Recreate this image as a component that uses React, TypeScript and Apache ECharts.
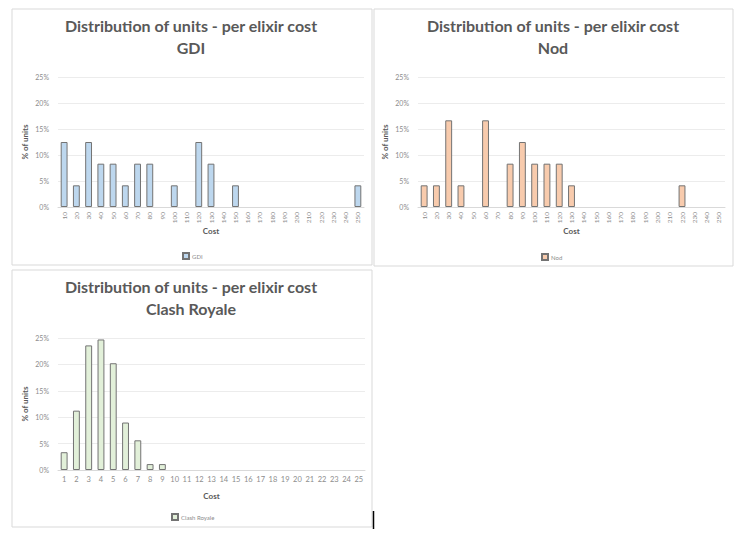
import React, { useEffect, useRef } from "react";
import * as echarts from "echarts";

const costCategories = ["10","20","30","40","50","60","70","80","90","100","110","120","130","140","150","160","170","180","190","200","210","220","230","240","250"];
const gdiValues = [12.5, 4.17, 12.5, 8.33, 8.33, 4.17, 8.33, 8.33, 0, 4.17, 0, 12.5, 8.33, 0, 4.17, 0, 0, 0, 0, 0, 0, 0, 0, 0, 4.17];
const nodValues = [4.17, 4.17, 16.67, 4.17, 0, 16.67, 0, 8.33, 12.5, 8.33, 8.33, 8.33, 4.17, 0, 0, 0, 0, 0, 0, 0, 0, 4.17, 0, 0, 0];
const clashCategories = ["1","2","3","4","5","6","7","8","9","10","11","12","13","14","15","16","17","18","19","20","21","22","23","24","25"];
const clashValues = [3.37, 11.24, 23.6, 24.72, 20.22, 8.99, 5.62, 1.12, 1.12, 0, 0, 0, 0, 0, 0, 0, 0, 0, 0, 0, 0, 0, 0, 0, 0];
const yTicks = [0, 5, 10, 15, 20, 25];

const FONT = "Lato";
const TITLE_COLOR = "#595959";
const LABEL_COLOR = "#8c8c8c";

export default function App() {
  const ref = useRef<HTMLDivElement>(null);
  useEffect(() => {
    if (!ref.current) return;
    const chart = echarts.init(ref.current, null, { renderer: "svg" });

    const panels = [
      { name: "GDI", cats: costCategories, vals: gdiValues, color: "#BDD7EE", rotate: 90,
        grid: { left: 58, right: 379, top: 77, bottom: 328 }, titleX: 191, titleY: 14, legendX: 177, legendY: 247 },
      { name: "Nod", cats: costCategories, vals: nodValues, color: "#F8CBAD", rotate: 90,
        grid: { left: 418, right: 18, top: 77, bottom: 328 }, titleX: 553, titleY: 14, legendX: 536, legendY: 248 },
      { name: "Clash Royale", cats: clashCategories, vals: clashValues, color: "#E2F0D9", rotate: 0,
        grid: { left: 58, right: 378, top: 338, bottom: 65 }, titleX: 191, titleY: 275, legendX: 166, legendY: 508 },
    ];

    const option: any = {
      animation: false,
      backgroundColor: "#ffffff",
      textStyle: { fontFamily: FONT },
      title: panels.map((p) => ({
        text: "Distribution of units - per elixir cost\n" + p.name,
        left: p.titleX,
        top: p.titleY,
        padding: 0,
        textAlign: "center",
        textStyle: { fontFamily: FONT, fontSize: 16, fontWeight: "bold", color: TITLE_COLOR, lineHeight: 22 },
      })),
      legend: panels.map((p) => ({
        data: [p.name],
        left: p.legendX,
        top: p.legendY,
        itemWidth: 6,
        itemHeight: 6,
        itemGap: 4,
        icon: "rect",
        textStyle: { fontFamily: FONT, fontSize: 6, color: LABEL_COLOR, padding: [0, 0, 0, -2] },
        selectedMode: false,
      })),
      grid: panels.map((p) => ({ ...p.grid })),
      xAxis: panels.map((p, i) => ({
        type: "category",
        gridIndex: i,
        data: p.cats,
        name: "Cost",
        nameLocation: "middle",
        nameGap: p.rotate ? 20 : 22,
        nameTextStyle: { fontFamily: FONT, fontSize: 8, fontWeight: "bold", color: TITLE_COLOR },
        axisLine: { lineStyle: { color: "#d9d9d9", width: 1 } },
        axisTick: { show: false },
        axisLabel: { interval: 0, rotate: p.rotate, fontSize: p.rotate ? 6.5 : 7.5, color: LABEL_COLOR, margin: 5, fontFamily: FONT },
      })),
      yAxis: panels.map((p, i) => ({
        type: "value",
        gridIndex: i,
        min: 0,
        max: 25,
        interval: 5,
        name: "% of units",
        nameLocation: "middle",
        nameGap: 29,
        nameTextStyle: { fontFamily: FONT, fontSize: 8, fontWeight: "bold", color: TITLE_COLOR },
        axisLine: { show: false },
        axisTick: { show: false },
        axisLabel: {
          fontSize: 7,
          color: LABEL_COLOR,
          margin: 9,
          fontFamily: FONT,
          formatter: (v: number) => (yTicks.includes(v) ? v + "%" : ""),
        },
        splitLine: { lineStyle: { color: "#ececec", width: 1 } },
      })),
      series: panels.map((p, i) => ({
        type: "bar",
        name: p.name,
        xAxisIndex: i,
        yAxisIndex: i,
        data: p.vals.map((v) => (v === 0 ? null : v)),
        barWidth: "56%",
        itemStyle: { color: p.color, borderColor: "#737373", borderWidth: 1 },
      })),
      graphic: [
        { type: "rect", shape: { x: 12, y: 9, width: 360, height: 256 }, style: { fill: "none", stroke: "#d9d9d9", lineWidth: 1 }, silent: true },
        { type: "rect", shape: { x: 374, y: 9, width: 359, height: 257 }, style: { fill: "none", stroke: "#d9d9d9", lineWidth: 1 }, silent: true },
        { type: "rect", shape: { x: 12, y: 270, width: 360, height: 257 }, style: { fill: "none", stroke: "#d9d9d9", lineWidth: 1 }, silent: true },
        { type: "line", shape: { x1: 373.5, y1: 511, x2: 373.5, y2: 529 }, style: { stroke: "#000000", lineWidth: 1.5 }, silent: true },
      ],
    };
    chart.setOption(option);
    return () => chart.dispose();
  }, []);
  return <div ref={ref} style={{ position: "fixed", left: 0, top: 0, width: 743, height: 535 }} />;
}
